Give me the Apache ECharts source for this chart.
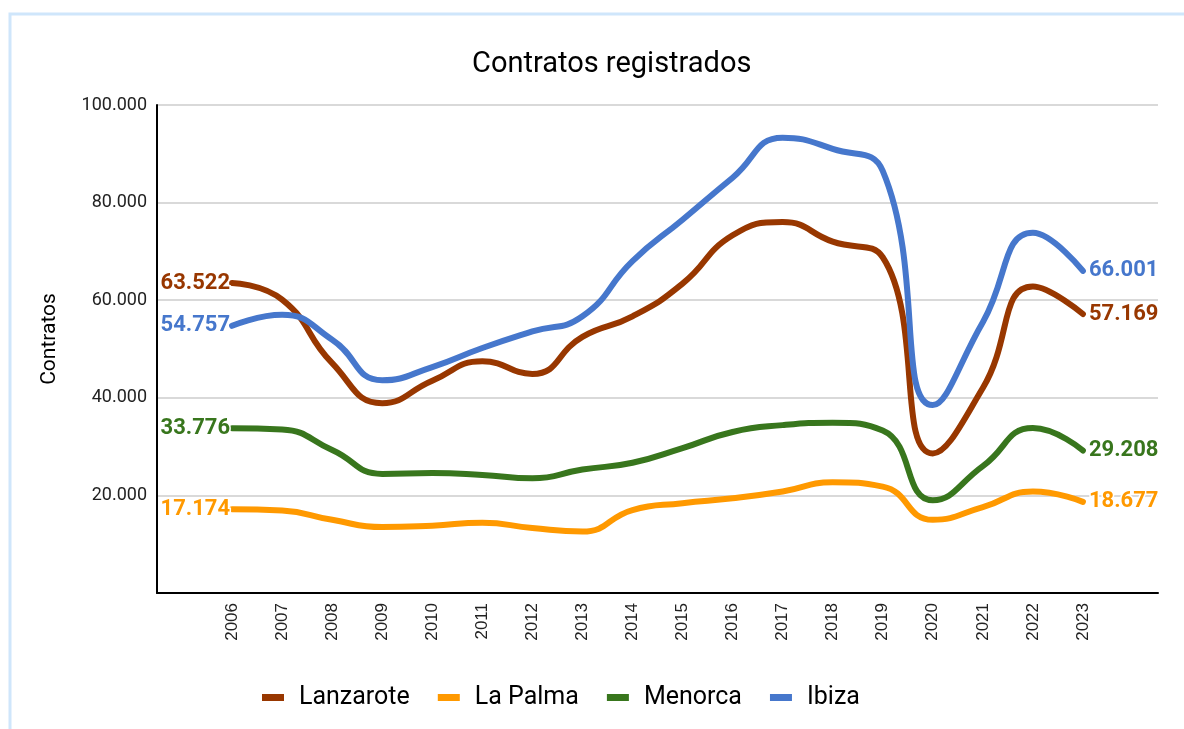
<!DOCTYPE html>
<html>
<head>
<meta charset="utf-8">
<script src="https://cdn.jsdelivr.net/npm/echarts@6/dist/echarts.min.js"></script>
<style>
  html, body { margin: 0; padding: 0; background: #fff; }
  #chart { width: 1184px; height: 729px; }
</style>
</head>
<body>
<div id="chart"></div>
<script>
// datos
const years = ['2006', '2007', '2008', '2009', '2010', '2011', '2012', '2013', '2014',
  '2015', '2016', '2017', '2018', '2019', '2020', '2021', '2022', '2023']
const lanzarote = [63522, 60100, 47100, 38900, 43500, 47500, 44900, 52500, 56700,
  63400, 73300, 76000, 72000, 68800, 28600, 42000, 62800, 57169]
const laPalma = [17174, 16900, 15000, 13500, 13800, 14400, 13300, 12600, 17000,
  18400, 19400, 20800, 22700, 21800, 15000, 17600, 20800, 18677]
const menorca = [33776, 33500, 29300, 24400, 24600, 24200, 23500, 25300, 26700,
  29700, 33000, 34400, 34900, 33300, 19000, 26000, 33800, 29208]
const ibiza = [54757, 57000, 51900, 43600, 46300, 50200, 53600, 56700, 68000,
  76500, 85100, 93300, 91000, 86500, 38500, 55500, 73800, 66001]
const yTicks = [0, 20000, 40000, 60000, 80000, 100000]

const fmt = v => String(v).replace(/\B(?=(\d{3})+(?!\d))/g, '.')

const chart = echarts.init(document.getElementById('chart'))

// categorias vacias a cada lado para dejar el hueco que tiene el original
const cats = [''].concat(years, [''])

function buildSeries(name, values, color) {
  const data = [null].concat(values.map((v, i) => {
    if (i === 0) return { value: v, label: { show: true, position: 'left', distance: 2 } }
    if (i === values.length - 1) return { value: v, label: { show: true, position: 'right', distance: 6 } }
    return v
  }), [null])
  return {
    name: name,
    type: 'line',
    smooth: 0.5,
    symbol: 'circle',
    symbolSize: 0,
    showSymbol: true,
    color: color,
    lineStyle: { width: 6, color: color, cap: 'round' },
    label: {
      show: false,
      distance: 5,
      color: color,
      fontFamily: 'Roboto',
      fontWeight: 'bold',
      fontSize: 22,
      textBorderColor: '#fff',
      textBorderWidth: 3,
      formatter: p => fmt(p.value)
    },
    emphasis: { disabled: true },
    data: data
  }
}

const option = {
  animation: false,
  backgroundColor: '#fff',
  title: {
    text: 'Contratos registrados',
    left: 467,
    top: 45,
    textStyle: { fontFamily: 'Roboto', fontWeight: 'normal', fontSize: 29, color: '#000' }
  },
  graphic: [{
    type: 'rect',
    shape: { x: 10, y: 14, width: 1200, height: 740 },
    style: { fill: 'none', stroke: '#cfe6fb', lineWidth: 3 },
    silent: true
  }],
  legend: {
    left: 257,
    top: 680,
    itemWidth: 22,
    itemHeight: 7,
    itemGap: 28,
    icon: 'rect',
    textStyle: { fontFamily: 'Roboto', fontSize: 25, color: '#000', padding: [0, 0, 0, 10] },
    data: ['Lanzarote', 'La Palma', 'Menorca', 'Ibiza']
  },
  grid: { left: 157, right: 26, top: 105, bottom: 136, containLabel: false },
  xAxis: {
    type: 'category',
    boundaryGap: true,
    data: cats,
    axisLine: { lineStyle: { color: '#000', width: 2 } },
    axisTick: { show: false },
    axisLabel: {
      rotate: 90,
      interval: 0,
      margin: 10,
      fontFamily: 'Liberation Sans',
      fontSize: 17,
      color: '#222'
    }
  },
  yAxis: {
    type: 'value',
    min: yTicks[0],
    max: yTicks[yTicks.length - 1],
    interval: 20000,
    name: 'Contratos',
    nameLocation: 'middle',
    nameGap: 97,
    nameTextStyle: { fontFamily: 'Roboto', fontSize: 21, color: '#000', padding: [0, 0, 0, 20] },
    axisLine: { show: true, lineStyle: { color: '#000', width: 2 } },
    axisTick: { show: false },
    splitLine: { lineStyle: { color: '#cccccc', width: 1.5 } },
    axisLabel: {
      margin: 10,
      fontFamily: 'Roboto',
      fontSize: 18,
      color: '#222',
      formatter: v => (v === 0 ? '' : fmt(v))
    }
  },
  series: [
    buildSeries('Lanzarote', lanzarote, '#983700'),
    buildSeries('La Palma', laPalma, '#ff9900'),
    buildSeries('Menorca', menorca, '#38761d'),
    buildSeries('Ibiza', ibiza, '#4677cc')
  ]
}

chart.setOption(option)
</script>
</body>
</html>
